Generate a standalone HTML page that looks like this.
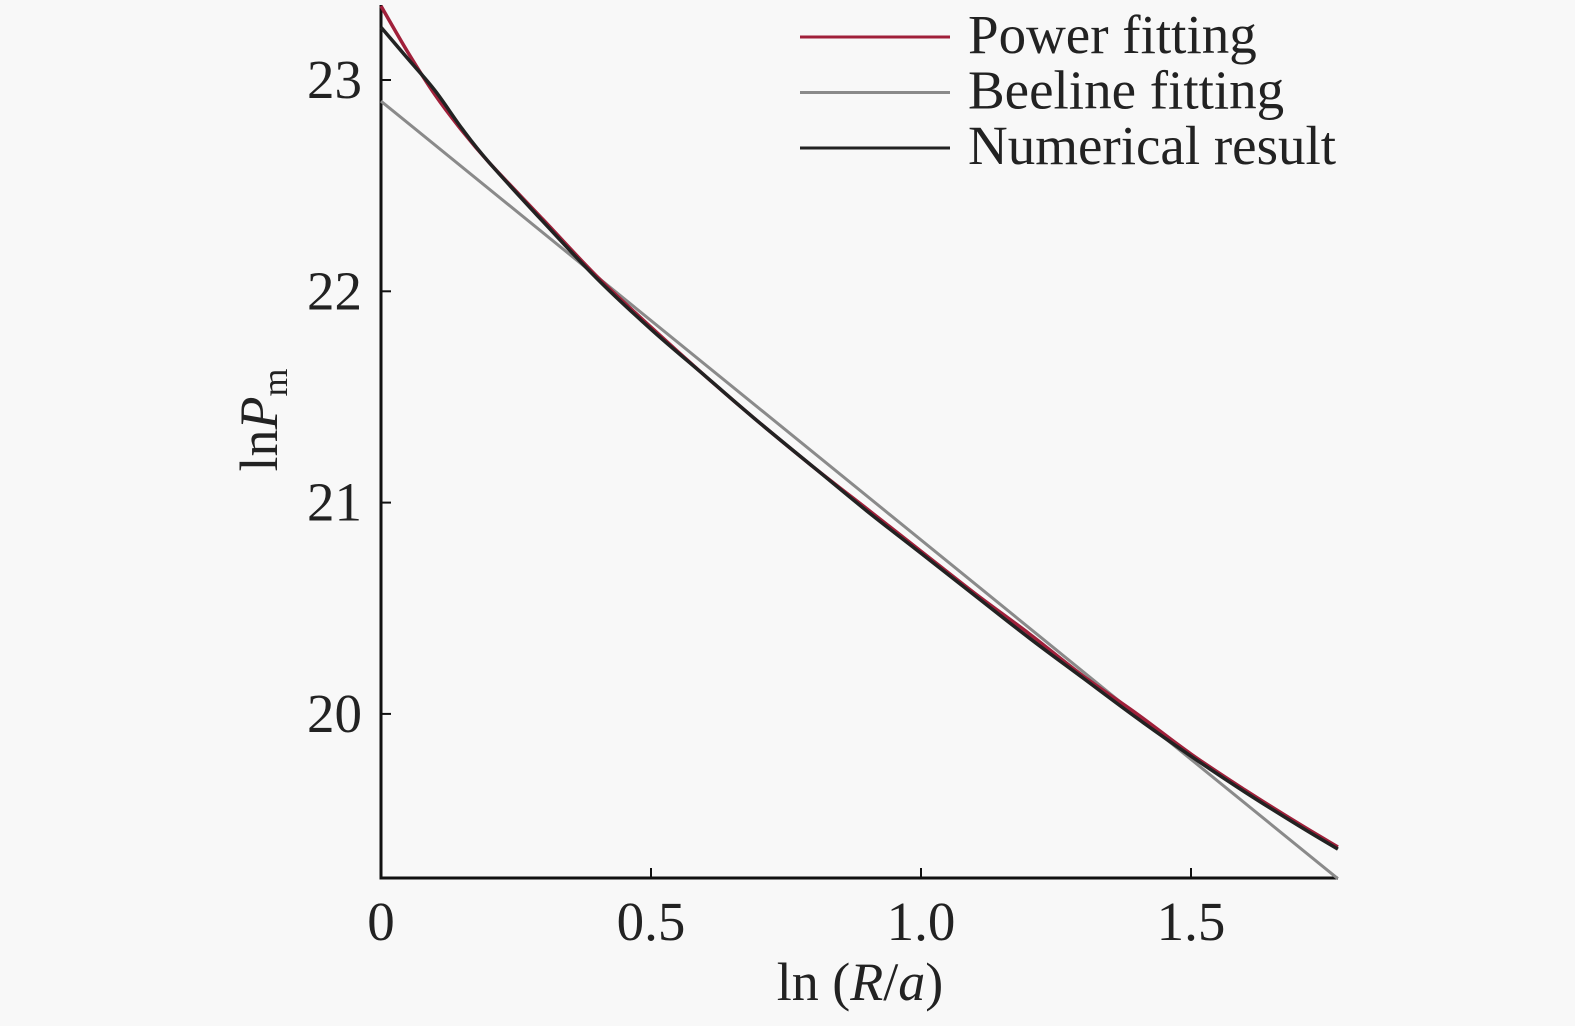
<!DOCTYPE html>
<html><head><meta charset="utf-8"><style>
html,body{margin:0;padding:0;background:#f8f8f8;}
svg{display:block;font-family:"Liberation Serif",serif;}
</style></head><body>
<svg width="1575" height="1026" viewBox="0 0 1575 1026">
<g id="plot"></g>
</svg>
<script>
const xTicks=[0,0.5,1.0,1.5];
const xTickLabels=["0","0.5","1.0","1.5"];
const yTicks=[20,21,22,23];
const yTickLabels=["20","21","22","23"];
const numX=[0,0.05,0.1,0.15,0.2,0.3,0.4,0.5,0.6,0.7,0.8,0.9,1.0,1.1,1.2,1.3,1.4,1.5,1.6,1.7,1.772];
const numY=[23.25,23.1,22.95,22.77,22.61,22.33,22.06,21.82,21.6,21.38,21.17,20.96,20.76,20.56,20.36,20.17,19.98,19.8,19.63,19.47,19.36];
const powX=[0,0.05,0.1,0.15,0.2,0.3,0.4,0.5,0.6,0.7,0.8,0.9,1.0,1.1,1.2,1.3,1.4,1.5,1.6,1.7,1.772];
const powY=[23.35,23.13,22.93,22.76,22.61,22.34,22.07,21.83,21.6,21.38,21.17,20.97,20.77,20.57,20.38,20.18,20.0,19.81,19.64,19.48,19.37];
const lineX=[0,1.772];
const lineY=[22.9,19.22];
const X=v=>381+v*540;
const Y=v=>80+(23-v)*211.3;
const NS="http://www.w3.org/2000/svg";
const g=document.getElementById('plot');
function mk(t,a,p){const e=document.createElementNS(NS,t);for(const k in a)e.setAttribute(k,a[k]);(p||g).appendChild(e);return e;}
function path(xs,ys){
 const P=xs.map((x,i)=>[X(x),Y(ys[i])]);
 if(P.length<3)return 'M'+P[0].join(' ')+' L'+P[1].join(' ');
 let d='M'+P[0][0].toFixed(1)+' '+P[0][1].toFixed(1);
 for(let i=0;i<P.length-1;i++){
  const p0=P[i-1]||P[i],p1=P[i],p2=P[i+1],p3=P[i+2]||p2;
  const c1=[p1[0]+(p2[0]-p0[0])/6,p1[1]+(p2[1]-p0[1])/6];
  const c2=[p2[0]-(p3[0]-p1[0])/6,p2[1]-(p3[1]-p1[1])/6];
  d+=' C'+c1.map(v=>v.toFixed(1)).join(' ')+' '+c2.map(v=>v.toFixed(1)).join(' ')+' '+p2.map(v=>v.toFixed(1)).join(' ');
 }
 return d;
}
let ax=mk('path',{d:'M381 5 L381 878 L1338 878',fill:'none',stroke:'#111','stroke-width':3});


xTicks.forEach((t,i)=>{
 let tk=mk('line',{x1:X(t),x2:X(t),y1:878,y2:868,stroke:'#111','stroke-width':2});
 
 
 let tx=mk('text',{x:X(t),y:940,'font-size':55,'text-anchor':'middle',fill:'#222'});
 tx.textContent=xTickLabels[i];
 
 
});
yTicks.forEach((t,i)=>{
 let tk=mk('line',{x1:381,x2:391,y1:Y(t),y2:Y(t),stroke:'#111','stroke-width':2});
 
 
 let tx=mk('text',{x:362,y:Y(t)+18,'font-size':55,'text-anchor':'end',fill:'#222'});
 tx.textContent=yTickLabels[i];
 
 
});
let s1=mk('path',{d:path(lineX,lineY),fill:'none',stroke:'#8a8a8a','stroke-width':3});


let s2=mk('path',{d:path(powX,powY),fill:'none',stroke:'#a0203a','stroke-width':3.5});


let s3=mk('path',{d:path(numX,numY),fill:'none',stroke:'#222','stroke-width':3.5});


let xt=mk('text',{x:860,y:1000,'font-size':54,'text-anchor':'middle',fill:'#222'});
xt.innerHTML='ln (<tspan font-style="italic">R</tspan>/<tspan font-style="italic">a</tspan>)';


let yt=mk('text',{x:0,y:0,'font-size':54,'text-anchor':'middle',fill:'#222',transform:'translate(277,420) rotate(-90)'});
yt.innerHTML='ln<tspan font-style="italic">P</tspan><tspan font-size="36" dy="10">m</tspan>';


const legNames=["Power fitting","Beeline fitting","Numerical result"];
const legColors=["#a0203a","#8a8a8a","#222"];
legNames.forEach((n,i)=>{
 const y=37+i*55.5;
 let l=mk('line',{x1:800,x2:950,y1:y,y2:y,stroke:legColors[i],'stroke-width':3});
 
 
 let t=mk('text',{x:968,y:y+16,'font-size':55,fill:'#222'});
 t.textContent=n;
 
 
});
</script>
</body></html>
